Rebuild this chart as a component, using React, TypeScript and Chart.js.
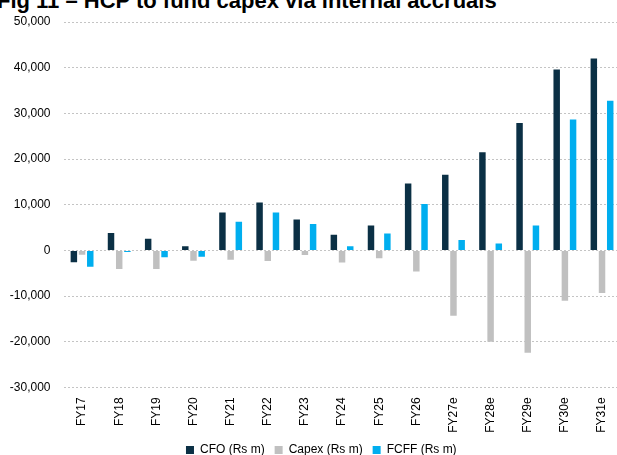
import React, { useEffect, useRef } from "react";
import { Chart, registerables } from "chart.js";

Chart.register(...registerables);

const categories = ["FY17","FY18","FY19","FY20","FY21","FY22","FY23","FY24","FY25","FY26","FY27e","FY28e","FY29e","FY30e","FY31e"];
const cfo = [-2600, 3800, 2550, 880, 8300, 10500, 6780, 3420, 5470, 14660, 16540, 21500, 27860, 39600, 42000];
const capex = [-950, -4100, -4100, -2270, -2050, -2340, -1030, -2630, -1750, -4600, -14300, -20000, -22400, -11030, -9340];
const fcff = [-3600, -370, -1530, -1400, 6260, 8300, 5750, 880, 3720, 10130, 2250, 1530, 5470, 28660, 32740];
const seriesNames = ["CFO (Rs m)", "Capex (Rs m)", "FCFF (Rs m)"];
const seriesColors = ["#0b3045", "#c0c0c0", "#00aeef"];
const title = "Fig 11 \u2013 HCP to fund capex via internal accruals";

const FONT = "Arial, 'Liberation Sans', sans-serif";

const legendShift = {
  id: "legendShift",
  afterLayout(chart: any) {
    if (chart.legend) {
      chart.legend.left += 11;
      chart.legend.right += 11;
    }
  },
};

export default function App() {
  const ref = useRef<HTMLCanvasElement | null>(null);
  useEffect(() => {
    if (!ref.current) return;
    const values = [cfo, capex, fcff];
    const chart = new Chart(ref.current, {
      type: "bar",
      data: {
        labels: categories,
        datasets: values.map((v, i) => ({
          label: seriesNames[i],
          data: v,
          backgroundColor: seriesColors[i],
          borderWidth: 0,
          categoryPercentage: 0.662,
          barPercentage: 0.79,
        })),
      },
      plugins: [legendShift],
      options: {
        animation: false,
        responsive: false,
        devicePixelRatio: 1,
        layout: { padding: { left: 0, right: 19.4, top: 22, bottom: 0 } },
        plugins: {
          legend: {
            position: "bottom",
            labels: {
              boxWidth: 8,
              boxHeight: 8,
              padding: 10,
              color: "#000",
              font: { family: FONT, size: 12 },
            },
          },
          tooltip: { enabled: false },
          title: { display: false },
        },
        scales: {
          x: {
            grid: { display: false, drawTicks: false },
            border: { display: false },
            ticks: {
              maxRotation: 90,
              minRotation: 90,
              padding: 10,
              color: "#000",
              font: { family: FONT, size: 12 },
            },
            afterFit: (scale: any) => {
              scale.height = 46.6;
            },
          },
          y: {
            min: -30000,
            max: 50000,
            grid: { color: "#c4c4c4", lineWidth: 1, drawTicks: false },
            border: { display: false, dash: [2, 2] },
            ticks: {
              stepSize: 10000,
              padding: 13,
              color: "#000",
              font: { family: FONT, size: 12 },
              callback: (v: any) => Number(v).toLocaleString("en-US"),
            },
            afterFit: (scale: any) => {
              scale.width = 63.5;
            },
          },
        },
      },
    });
    return () => chart.destroy();
  }, []);

  return (
    <div style={{ position: "fixed", left: 0, top: 0, width: 617, height: 455, overflow: "hidden", background: "#fff" }}>
      <div
        style={{
          position: "absolute",
          left: -3,
          top: -10,
          whiteSpace: "nowrap",
          fontFamily: FONT,
          fontWeight: "bold",
          fontSize: 22,
          lineHeight: "22px",
          color: "#000",
        }}
      >
        {title}
      </div>
      <canvas ref={ref} width={640} height={466} style={{ position: "absolute", left: 0, top: 0, width: 640, height: 466 }} />
    </div>
  );
}
